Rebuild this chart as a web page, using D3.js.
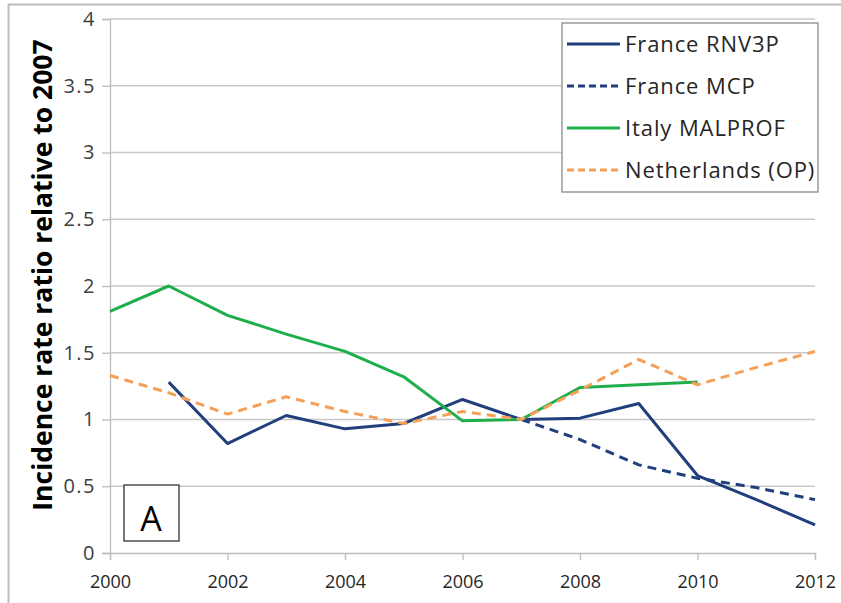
<!DOCTYPE html>
<html>
<head>
<meta charset="utf-8">
<script src="https://cdn.jsdelivr.net/npm/d3@7"></script>
<style>
  body { margin: 0; background: #fff; }
  svg { display: block; font-family: "Open Sans", "Liberation Sans", sans-serif; }
</style>
</head>
<body>
<svg id="chart" width="841" height="603"></svg>
<script>
// values
const years = [2000, 2001, 2002, 2003, 2004, 2005, 2006, 2007, 2008, 2009, 2010, 2011, 2012];
const franceRnv3p = [null, 1.28, 0.82, 1.03, 0.93, 0.97, 1.15, 1.0, 1.01, 1.12, 0.58, 0.40, 0.21];
const franceMcp = [null, null, null, null, null, null, null, 1.0, 0.85, 0.66, 0.56, 0.49, 0.40];
const italyMalprof = [1.81, 2.0, 1.78, 1.64, 1.51, 1.32, 0.99, 1.0, 1.24, 1.26, 1.28, null, null];
const netherlandsOp = [1.33, 1.2, 1.04, 1.17, 1.06, 0.97, 1.06, 1.0, 1.22, 1.45, 1.26, 1.39, 1.51];
const xTicks = [2000, 2002, 2004, 2006, 2008, 2010, 2012];
const yTicks = [0, 0.5, 1, 1.5, 2, 2.5, 3, 3.5, 4];

const series = [
  { name: "France RNV3P", values: franceRnv3p, color: "#213f7c", dash: null },
  { name: "France MCP", values: franceMcp, color: "#213f7c", dash: "9,6" },
  { name: "Italy MALPROF", values: italyMalprof, color: "#1fae4c", dash: null },
  { name: "Netherlands (OP)", values: netherlandsOp, color: "#f5a059", dash: "9,6" }
];

const svg = d3.select("#chart");

// outer frame (right and bottom edges fall off the picture)
svg.append("rect")
  .attr("x", 8.5).attr("y", 4.5)
  .attr("width", 850).attr("height", 620)
  .attr("fill", "none").attr("stroke", "#bdbdbd").attr("stroke-width", 2);

const x = d3.scaleLinear().domain([2000, 2012]).range([110, 815]);
const y = d3.scaleLinear().domain([0, 4]).range([553, 19]);

// gridlines
svg.append("g")
  .selectAll("line")
  .data(yTicks.filter(d => d > 0))
  .enter().append("line")
  .attr("x1", x(2000)).attr("x2", x(2012))
  .attr("y1", d => y(d)).attr("y2", d => y(d))
  .attr("stroke", "#c8c8c8").attr("stroke-width", 1.3);

// y axis
const yAxis = svg.append("g")
  .attr("transform", `translate(${x(2000)},0)`)
  .call(d3.axisLeft(y).tickValues(yTicks).tickSize(8).tickPadding(6).tickFormat(d3.format("")));
yAxis.attr("font-family", null).attr("font-size", null);
yAxis.select(".domain").attr("stroke", "#bdbdbd").attr("stroke-width", 1.3);
yAxis.selectAll(".tick line").attr("stroke", "#bdbdbd").attr("stroke-width", 1.3);
yAxis.selectAll("text")
  .attr("font-size", 20)
  .attr("letter-spacing", 1.5)
  .attr("fill", "#404040");

// x axis
const xAxis = svg.append("g")
  .attr("transform", `translate(0,${y(0)})`)
  .call(d3.axisBottom(x).tickValues(xTicks).tickSize(7).tickPadding(15).tickFormat(d3.format("d")));
xAxis.attr("font-family", null).attr("font-size", null);
xAxis.select(".domain").attr("stroke", "#bdbdbd").attr("stroke-width", 1.3);
xAxis.selectAll(".tick line").attr("stroke", "#bdbdbd").attr("stroke-width", 1.3);
xAxis.selectAll("text")
  .attr("font-size", 18)
  .attr("fill", "#262626");

// y axis title
svg.append("text")
  .attr("transform", "translate(52,275) rotate(-90)")
  .attr("text-anchor", "middle")
  .attr("font-size", 26.5)
  .attr("font-weight", "bold")
  .attr("fill", "#000")
  .text("Incidence rate ratio relative to 2007");

// lines
const line = d3.line()
  .defined(d => d.v !== null)
  .x(d => x(d.year))
  .y(d => y(d.v));

svg.append("g")
  .selectAll("path")
  .data(series)
  .enter().append("path")
  .attr("d", s => line(years.map((yr, i) => ({ year: yr, v: s.values[i] }))))
  .attr("fill", "none")
  .attr("stroke", s => s.color)
  .attr("stroke-width", 3)
  .attr("stroke-dasharray", s => s.dash)
  .attr("stroke-linejoin", "round");

// legend
const legend = svg.append("g");
legend.append("rect")
  .attr("x", 562).attr("y", 23).attr("width", 256).attr("height", 169)
  .attr("fill", "#fff").attr("stroke", "#8a8a8a").attr("stroke-width", 1.3);

const rowY = d3.scalePoint().domain(series.map(s => s.name)).range([44, 170]);
const rows = legend.selectAll("g.row")
  .data(series)
  .enter().append("g")
  .attr("class", "row")
  .attr("transform", s => `translate(0,${rowY(s.name)})`);
rows.append("line")
  .attr("x1", 567).attr("x2", 620)
  .attr("stroke", s => s.color)
  .attr("stroke-width", 3)
  .attr("stroke-dasharray", s => s.dash ? "7,4" : null);
rows.append("text")
  .attr("x", 625).attr("dy", "0.36em")
  .attr("font-size", 22)
  .attr("letter-spacing", 0.9)
  .attr("fill", "#262626")
  .text(s => s.name);

// panel label
svg.append("rect")
  .attr("x", 124).attr("y", 485).attr("width", 55).attr("height", 56)
  .attr("fill", "#fff").attr("stroke", "#333").attr("stroke-width", 1.3);
svg.append("text")
  .attr("x", 151).attr("y", 531)
  .attr("text-anchor", "middle")
  .attr("font-size", 34)
  .attr("fill", "#000")
  .text("A");
</script>
</body>
</html>
